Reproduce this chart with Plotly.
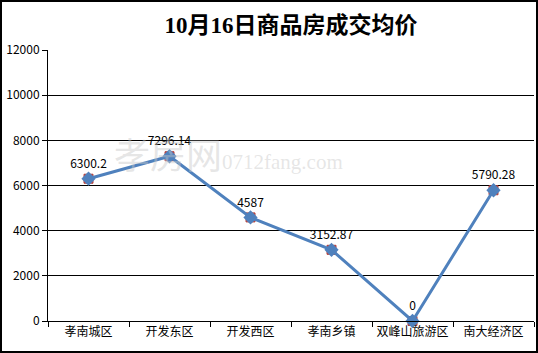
import plotly.graph_objects as go

categories = ["孝南城区", "开发东区", "开发西区", "孝南乡镇", "双峰山旅游区", "南大经济区"]
prices = [6300.2, 7296.14, 4587, 3152.87, 0, 5790.28]
price_labels = ["6300.2", "7296.14", "4587", "3152.87", "0", "5790.28"]
y_ticks = [0, 2000, 4000, 6000, 8000, 10000, 12000]

L, R, T, B = 48, 4, 50, 32
W, H = 538, 353
pw, ph = W - L - R, H - T - B

font_main = "Noto Sans CJK SC, Liberation Sans, sans-serif"

fig = go.Figure()
fig.add_trace(go.Scatter(
    x=categories, y=prices, mode="markers",
    marker=dict(symbol="square", size=9, color="#C0504D",
                line=dict(color="#B0403D", width=1)),
    cliponaxis=False, hoverinfo="skip", showlegend=False))
fig.add_trace(go.Scatter(
    x=categories, y=prices, mode="lines+markers+text",
    line=dict(color="#4F81BD", width=3),
    marker=dict(symbol="diamond", size=11, color="#4F81BD"),
    text=price_labels, textposition="top center",
    textfont=dict(family=font_main, size=12, color="#000000"),
    cliponaxis=False, showlegend=False))


def px_x(p):
    return (p - L) / pw


def px_y(p):
    return (H - B - p) / ph


# faint watermark
fig.add_annotation(x=px_x(228), y=px_y(157), xref="paper", yref="paper",
                   text="孝房网<span style='font-size:21px'>0712fang.com</span>",
                   showarrow=False,
                   font=dict(family="Liberation Serif, Noto Sans CJK SC", size=36,
                             color="rgba(200,200,200,0.45)"))

fig.add_shape(type="rect", xref="paper", yref="paper",
              x0=px_x(1), x1=px_x(537), y0=px_y(352), y1=px_y(1),
              line=dict(color="#000000", width=2), layer="above")

fig.update_layout(
    width=W, height=H,
    margin=dict(l=L, r=R, t=T, b=B),
    paper_bgcolor="white", plot_bgcolor="white",
    title=dict(text="<b>10月16日商品房成交均价</b>", x=0.5, xanchor="center", xref="paper",
               y=1 - 25 / H, yanchor="middle",
               font=dict(family="Liberation Serif, Noto Sans CJK SC, serif", size=23, color="#000000")),
    xaxis=dict(type="category", showgrid=False, showline=True, linecolor="#000000", linewidth=1,
               ticks="outside", tickson="boundaries", ticklen=5, tickcolor="#000000",
               tickangle=0, automargin=False,
               tickfont=dict(family=font_main, size=12, color="#000000"),
               range=[-0.5, 5.5], fixedrange=True),
    yaxis=dict(range=[0, 12000], tickvals=y_ticks, ticktext=[str(v) for v in y_ticks],
               showgrid=True, gridcolor="#000000", gridwidth=1,
               showline=True, linecolor="#000000", linewidth=1,
               ticks="outside", ticklen=5, tickcolor="#000000", automargin=False,
               tickfont=dict(family=font_main, size=12, color="#000000"),
               zeroline=False, fixedrange=True),
)

fig.write_html("out.html")
